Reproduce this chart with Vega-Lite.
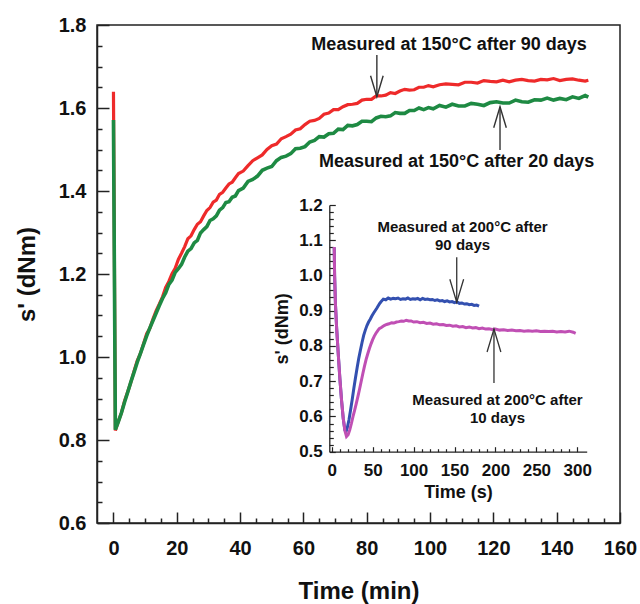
{
  "$schema": "https://vega.github.io/schema/vega-lite/v6.json",
  "width": 523,
  "height": 498,
  "autosize": "none",
  "padding": {"left": 97, "top": 25, "right": 20, "bottom": 81},
  "background": "white",
  "config": {
    "view": {"stroke": "#222", "strokeWidth": 1.5},
    "font": "Liberation Sans",
    "axis": {
      "labelFont": "Liberation Sans", "titleFont": "Liberation Sans",
      "labelFontWeight": "bold", "titleFontWeight": "bold",
      "labelColor": "#111", "titleColor": "#111",
      "domainColor": "#222", "tickColor": "#222", "grid": false,
      "labelFlush": false, "labelOverlap": false, "labelBound": false
    }
  },
  "datasets": {
    "main_red": [
      {"t":0,"v":1.639},{"t":0.6,"v":0.823},{"t":1.5,"v":0.844},{"t":2.5,"v":0.865},{"t":3.5,"v":0.894},{"t":4.5,"v":0.916},{"t":5.5,"v":0.939},{"t":6.5,"v":0.966},{"t":7.5,"v":0.991},{"t":8.5,"v":1.008},{"t":9.5,"v":1.032},{"t":10.5,"v":1.056},{"t":11.5,"v":1.069},{"t":12.5,"v":1.092},{"t":13.5,"v":1.112},{"t":14.5,"v":1.128},{"t":15.5,"v":1.145},{"t":16.5,"v":1.168},{"t":17.5,"v":1.182},{"t":18.5,"v":1.201},{"t":19.5,"v":1.214},{"t":20.5,"v":1.235},{"t":21.5,"v":1.25},{"t":22.5,"v":1.266},{"t":23.5,"v":1.285},{"t":24.5,"v":1.292},{"t":25.5,"v":1.307},{"t":26.5,"v":1.32},{"t":27.5,"v":1.326},{"t":28.5,"v":1.34},{"t":29.5,"v":1.353},{"t":30.5,"v":1.36},{"t":31.5,"v":1.373},{"t":32.5,"v":1.378},{"t":33.5,"v":1.392},{"t":34.5,"v":1.397},{"t":35.5,"v":1.407},{"t":36.5,"v":1.417},{"t":37.5,"v":1.421},{"t":38.5,"v":1.432},{"t":39.5,"v":1.442},{"t":41,"v":1.448},{"t":42.5,"v":1.461},{"t":44,"v":1.473},{"t":45.5,"v":1.48},{"t":47,"v":1.487},{"t":48.5,"v":1.5},{"t":50,"v":1.509},{"t":51.5,"v":1.513},{"t":53,"v":1.526},{"t":54.5,"v":1.531},{"t":56,"v":1.537},{"t":57.5,"v":1.547},{"t":59,"v":1.55},{"t":60.5,"v":1.56},{"t":62,"v":1.568},{"t":63.5,"v":1.57},{"t":65,"v":1.575},{"t":66.5,"v":1.585},{"t":68,"v":1.588},{"t":69.5,"v":1.596},{"t":71,"v":1.596},{"t":72.5,"v":1.603},{"t":74,"v":1.608},{"t":75.5,"v":1.609},{"t":77,"v":1.611},{"t":78.5,"v":1.619},{"t":80,"v":1.621},{"t":81.5,"v":1.621},{"t":83,"v":1.629},{"t":84.5,"v":1.629},{"t":86,"v":1.631},{"t":87.5,"v":1.637},{"t":89,"v":1.635},{"t":90.5,"v":1.641},{"t":92,"v":1.645},{"t":93.5,"v":1.643},{"t":95,"v":1.644},{"t":96.5,"v":1.65},{"t":98,"v":1.65},{"t":99.5,"v":1.654},{"t":101,"v":1.651},{"t":103,"v":1.656},{"t":105,"v":1.658},{"t":107,"v":1.657},{"t":109,"v":1.656},{"t":111,"v":1.662},{"t":113,"v":1.662},{"t":115,"v":1.66},{"t":117,"v":1.666},{"t":119,"v":1.664},{"t":121,"v":1.663},{"t":123,"v":1.667},{"t":125,"v":1.663},{"t":127,"v":1.667},{"t":129,"v":1.669},{"t":131,"v":1.666},{"t":133,"v":1.665},{"t":135,"v":1.669},{"t":137,"v":1.668},{"t":139,"v":1.671},{"t":141,"v":1.666},{"t":143,"v":1.669},{"t":145,"v":1.67},{"t":147,"v":1.667},{"t":149,"v":1.665},{"t":150,"v":1.667}
    ],
    "main_green": [
      {"t":0,"v":1.571},{"t":0.6,"v":0.825},{"t":1.5,"v":0.843},{"t":2.5,"v":0.865},{"t":3.5,"v":0.891},{"t":4.5,"v":0.915},{"t":5.5,"v":0.94},{"t":6.5,"v":0.963},{"t":7.5,"v":0.987},{"t":8.5,"v":1.008},{"t":9.5,"v":1.03},{"t":10.5,"v":1.051},{"t":11.5,"v":1.07},{"t":12.5,"v":1.088},{"t":13.5,"v":1.106},{"t":14.5,"v":1.124},{"t":15.5,"v":1.141},{"t":16.5,"v":1.155},{"t":17.5,"v":1.175},{"t":18.5,"v":1.185},{"t":19.5,"v":1.204},{"t":20.5,"v":1.213},{"t":21.5,"v":1.223},{"t":22.5,"v":1.241},{"t":23.5,"v":1.255},{"t":24.5,"v":1.261},{"t":25.5,"v":1.275},{"t":26.5,"v":1.281},{"t":27.5,"v":1.299},{"t":28.5,"v":1.307},{"t":29.5,"v":1.314},{"t":30.5,"v":1.329},{"t":31.5,"v":1.333},{"t":32.5,"v":1.34},{"t":33.5,"v":1.354},{"t":34.5,"v":1.36},{"t":35.5,"v":1.372},{"t":36.5,"v":1.374},{"t":37.5,"v":1.385},{"t":38.5,"v":1.388},{"t":39.5,"v":1.401},{"t":41,"v":1.407},{"t":42.5,"v":1.423},{"t":44,"v":1.428},{"t":45.5,"v":1.436},{"t":47,"v":1.45},{"t":48.5,"v":1.455},{"t":50,"v":1.459},{"t":51.5,"v":1.473},{"t":53,"v":1.481},{"t":54.5,"v":1.484},{"t":56,"v":1.49},{"t":57.5,"v":1.502},{"t":59,"v":1.503},{"t":60.5,"v":1.507},{"t":62,"v":1.518},{"t":63.5,"v":1.522},{"t":65,"v":1.531},{"t":66.5,"v":1.53},{"t":68,"v":1.538},{"t":69.5,"v":1.539},{"t":71,"v":1.549},{"t":72.5,"v":1.548},{"t":74,"v":1.558},{"t":75.5,"v":1.557},{"t":77,"v":1.56},{"t":78.5,"v":1.568},{"t":80,"v":1.568},{"t":81.5,"v":1.567},{"t":83,"v":1.576},{"t":84.5,"v":1.58},{"t":86,"v":1.579},{"t":87.5,"v":1.581},{"t":89,"v":1.589},{"t":90.5,"v":1.587},{"t":92,"v":1.587},{"t":93.5,"v":1.594},{"t":95,"v":1.594},{"t":96.5,"v":1.6},{"t":98,"v":1.596},{"t":99.5,"v":1.601},{"t":101,"v":1.598},{"t":103,"v":1.606},{"t":105,"v":1.602},{"t":107,"v":1.609},{"t":109,"v":1.605},{"t":111,"v":1.605},{"t":113,"v":1.611},{"t":115,"v":1.609},{"t":117,"v":1.606},{"t":119,"v":1.613},{"t":121,"v":1.615},{"t":123,"v":1.612},{"t":125,"v":1.612},{"t":127,"v":1.619},{"t":129,"v":1.615},{"t":131,"v":1.614},{"t":133,"v":1.62},{"t":135,"v":1.619},{"t":137,"v":1.624},{"t":139,"v":1.619},{"t":141,"v":1.623},{"t":143,"v":1.62},{"t":145,"v":1.627},{"t":147,"v":1.623},{"t":149,"v":1.63},{"t":150,"v":1.626}
    ],
    "main_notes": [
      {"t":106,"v":1.752,"label":"Measured at 150°C after 90 days"},
      {"t":108.4,"v":1.469,"label":"Measured at 150°C after 20 days"}
    ],
    "main_arrows": [
      {"t":83.2,"v":1.728,"v2":1.627,"dir":"down"},
      {"t":122.1,"v":1.499,"v2":1.603,"dir":"up"}
    ],
    "inset_blue": [
      {"s":3,"v":1.08},{"s":3.5,"v":1.0},{"s":4.5,"v":0.92},{"s":6,"v":0.85},{"s":8,"v":0.775},{"s":10,"v":0.705},{"s":12,"v":0.645},{"s":14,"v":0.595},{"s":16,"v":0.562},{"s":17.5,"v":0.557},{"s":19,"v":0.568},{"s":21,"v":0.59},{"s":23,"v":0.618},{"s":25,"v":0.648},{"s":27,"v":0.68},{"s":29,"v":0.71},{"s":31,"v":0.738},{"s":33,"v":0.765},{"s":35,"v":0.788},{"s":37,"v":0.81},{"s":39,"v":0.83},{"s":41,"v":0.845},{"s":43,"v":0.858},{"s":45,"v":0.868},{"s":47,"v":0.876},{"s":49,"v":0.885},{"s":51,"v":0.893},{"s":53,"v":0.9},{"s":55,"v":0.907},{"s":57,"v":0.915},{"s":59,"v":0.922},{"s":61,"v":0.928},{"s":63,"v":0.933},{"s":66,"v":0.931},{"s":69,"v":0.936},{"s":72,"v":0.933},{"s":75,"v":0.935},{"s":78,"v":0.934},{"s":81,"v":0.936},{"s":84,"v":0.932},{"s":87,"v":0.934},{"s":90,"v":0.933},{"s":93,"v":0.936},{"s":96,"v":0.932},{"s":99,"v":0.934},{"s":102,"v":0.933},{"s":105,"v":0.935},{"s":108,"v":0.931},{"s":111,"v":0.935},{"s":114,"v":0.932},{"s":117,"v":0.933},{"s":120,"v":0.931},{"s":123,"v":0.932},{"s":126,"v":0.929},{"s":129,"v":0.931},{"s":132,"v":0.928},{"s":135,"v":0.929},{"s":138,"v":0.926},{"s":141,"v":0.928},{"s":144,"v":0.925},{"s":147,"v":0.926},{"s":150,"v":0.923},{"s":153,"v":0.925},{"s":156,"v":0.921},{"s":159,"v":0.922},{"s":162,"v":0.919},{"s":165,"v":0.92},{"s":168,"v":0.917},{"s":171,"v":0.918},{"s":174,"v":0.915},{"s":177,"v":0.916},{"s":180,"v":0.913}
    ],
    "inset_mag": [
      {"s":3,"v":1.081},{"s":3.5,"v":1.0},{"s":4.5,"v":0.92},{"s":6,"v":0.85},{"s":8,"v":0.775},{"s":10,"v":0.705},{"s":12,"v":0.645},{"s":14,"v":0.595},{"s":16,"v":0.56},{"s":18,"v":0.543},{"s":20,"v":0.548},{"s":22,"v":0.562},{"s":24,"v":0.58},{"s":26,"v":0.6},{"s":28,"v":0.618},{"s":30,"v":0.637},{"s":32,"v":0.657},{"s":34,"v":0.678},{"s":36,"v":0.7},{"s":38,"v":0.722},{"s":40,"v":0.743},{"s":42,"v":0.762},{"s":44,"v":0.778},{"s":46,"v":0.793},{"s":48,"v":0.806},{"s":50,"v":0.818},{"s":52,"v":0.828},{"s":54,"v":0.836},{"s":56,"v":0.843},{"s":58,"v":0.849},{"s":61,"v":0.853},{"s":64,"v":0.858},{"s":67,"v":0.861},{"s":70,"v":0.863},{"s":73,"v":0.866},{"s":76,"v":0.865},{"s":79,"v":0.868},{"s":82,"v":0.869},{"s":85,"v":0.871},{"s":88,"v":0.87},{"s":91,"v":0.873},{"s":94,"v":0.871},{"s":97,"v":0.871},{"s":100,"v":0.868},{"s":104,"v":0.869},{"s":108,"v":0.866},{"s":112,"v":0.867},{"s":116,"v":0.864},{"s":120,"v":0.865},{"s":124,"v":0.862},{"s":128,"v":0.863},{"s":132,"v":0.86},{"s":136,"v":0.861},{"s":140,"v":0.858},{"s":144,"v":0.859},{"s":148,"v":0.856},{"s":152,"v":0.857},{"s":156,"v":0.854},{"s":160,"v":0.855},{"s":164,"v":0.852},{"s":168,"v":0.854},{"s":172,"v":0.851},{"s":176,"v":0.852},{"s":180,"v":0.849},{"s":184,"v":0.851},{"s":188,"v":0.848},{"s":192,"v":0.849},{"s":196,"v":0.847},{"s":200,"v":0.848},{"s":205,"v":0.845},{"s":210,"v":0.846},{"s":215,"v":0.844},{"s":220,"v":0.845},{"s":225,"v":0.843},{"s":230,"v":0.844},{"s":235,"v":0.842},{"s":240,"v":0.843},{"s":245,"v":0.842},{"s":250,"v":0.843},{"s":255,"v":0.841},{"s":260,"v":0.842},{"s":265,"v":0.841},{"s":270,"v":0.842},{"s":275,"v":0.84},{"s":280,"v":0.841},{"s":285,"v":0.84},{"s":290,"v":0.842},{"s":295,"v":0.839},{"s":298,"v":0.836}
    ],
    "inset_notes": [
      {"s":159.8,"v":1.138,"label":"Measured at 200°C after"},
      {"s":159.8,"v":1.086,"label":"90 days"},
      {"s":202.5,"v":0.648,"label":"Measured at 200°C after"},
      {"s":202.5,"v":0.595,"label":"10 days"}
    ],
    "inset_arrows": [
      {"s":152.7,"v":1.052,"v2":0.924,"dir":"down"},
      {"s":198.2,"v":0.695,"v2":0.848,"dir":"up"}
    ]
  },
  "layer": [
    {
      "encoding": {
        "x": {
          "field": "t", "type": "quantitative",
          "scale": {"domain": [-5.2, 160], "nice": false, "zero": false},
          "axis": {
            "values": [0,5,10,15,20,25,30,35,40,45,50,55,60,65,70,75,80,85,90,95,100,105,110,115,120,125,130,135,140,145,150,155,160],
            "tickSize": {"condition": {"test": "datum.value % 20 === 0", "value": -11}, "value": -5},
            "tickWidth": 1.5, "domainWidth": 1.5,
            "labelExpr": "datum.value % 20 === 0 ? datum.label : ''",
            "labelFontSize": 20, "labelPadding": 26,
            "title": "Time (min)", "titleFontSize": 24, "titlePadding": 15
          }
        },
        "y": {
          "field": "v", "type": "quantitative",
          "scale": {"domain": [0.6, 1.8], "nice": false, "zero": false},
          "axis": {
            "values": [0.6,0.65,0.7,0.75,0.8,0.85,0.9,0.95,1.0,1.05,1.1,1.15,1.2,1.25,1.3,1.35,1.4,1.45,1.5,1.55,1.6,1.65,1.7,1.75,1.8],
            "tickSize": {"condition": {"test": "abs(round(datum.value*100) % 20) === 0", "value": -12}, "value": -5},
            "tickWidth": 1.5, "domainWidth": 1.5,
            "format": ".1f",
            "labelExpr": "abs(round(datum.value*100) % 20) === 0 ? datum.label : ''",
            "labelFontSize": 20, "labelPadding": 23,
            "title": "s' (dNm)", "titleFontSize": 24, "titlePadding": 19
          }
        }
      },
      "layer": [
        {"data": {"name": "main_red"}, "mark": {"type": "line", "color": "#ee2a2a", "strokeWidth": 3.2}},
        {"data": {"name": "main_green"}, "mark": {"type": "line", "color": "#1e8a43", "strokeWidth": 3.6}},
        {"data": {"name": "main_arrows"}, "mark": {"type": "rule", "color": "#333", "strokeWidth": 1.4}, "encoding": {"y2": {"field": "v2"}}},
        {"data": {"name": "main_arrows"}, "mark": {"type": "point", "filled": false, "size": 441, "color": "#333", "strokeWidth": 1.4, "opacity": 1},
         "encoding": {"y": {"field": "v2", "type": "quantitative"},
                      "shape": {"field": "dir", "type": "nominal", "scale": {"domain": ["down", "up"], "range": ["M-0.6,-2L0,0L0.6,-2", "M-0.6,2L0,0L0.6,2"]}, "legend": null}}},
        {"data": {"name": "main_notes"}, "mark": {"type": "text", "fontSize": 18, "fontWeight": "bold", "font": "Liberation Sans", "color": "#111"},
         "encoding": {"text": {"field": "label"}}}
      ]
    },
    {
      "encoding": {
        "x": {
          "field": "s", "type": "quantitative",
          "scale": {"domain": [-3, 311.5], "range": [232.3, 489.7], "nice": false, "zero": false},
          "axis": {
            "orient": "bottom", "offset": -71.3,
            "values": [0,10,20,30,40,50,60,70,80,90,100,110,120,130,140,150,160,170,180,190,200,210,220,230,240,250,260,270,280,290,300],
            "tickSize": {"condition": {"test": "datum.value % 50 === 0", "value": -5}, "value": -3},
            "tickWidth": 1.2, "domainWidth": 1.3,
            "labelExpr": "datum.value % 50 === 0 ? datum.label : ''",
            "labelFontSize": 17, "labelPadding": 16,
            "title": "Time (s)", "titleFontSize": 18, "titlePadding": 3
          }
        },
        "y": {
          "field": "v", "type": "quantitative",
          "scale": {"domain": [0.5, 1.2], "range": [426.7, 180], "nice": false, "zero": false},
          "axis": {
            "orient": "left", "offset": -232.3,
            "values": [0.5,0.52,0.54,0.56,0.58,0.6,0.62,0.64,0.66,0.68,0.7,0.72,0.74,0.76,0.78,0.8,0.82,0.84,0.86,0.88,0.9,0.92,0.94,0.96,0.98,1.0,1.02,1.04,1.06,1.08,1.1,1.12,1.14,1.16,1.18,1.2],
            "tickSize": {"condition": {"test": "abs(round(datum.value*100) % 10) === 0", "value": -6}, "value": -4},
            "tickWidth": 1.2, "domainWidth": 1.3,
            "format": ".1f",
            "labelExpr": "abs(round(datum.value*100) % 10) === 0 ? datum.label : ''",
            "labelFontSize": 17, "labelPadding": 13,
            "title": "s' (dNm)", "titleFontSize": 18, "titlePadding": 7
          }
        }
      },
      "layer": [
        {"data": {"values": [{}]}, "mark": {"type": "rect", "fill": null, "filled": false, "stroke": "#222", "strokeWidth": 1.3},
         "encoding": {"x": {"datum": -3}, "x2": {"datum": 311.5}, "y": {"datum": 0.5}, "y2": {"datum": 1.2}}},
        {"data": {"name": "inset_blue"}, "mark": {"type": "line", "color": "#3350b0", "strokeWidth": 3}},
        {"data": {"name": "inset_mag"}, "mark": {"type": "line", "color": "#c04fb4", "strokeWidth": 3}},
        {"data": {"name": "inset_arrows"}, "mark": {"type": "rule", "color": "#333", "strokeWidth": 1.3}, "encoding": {"y2": {"field": "v2"}}},
        {"data": {"name": "inset_arrows"}, "mark": {"type": "point", "filled": false, "size": 529, "color": "#333", "strokeWidth": 1.3, "opacity": 1},
         "encoding": {"y": {"field": "v2", "type": "quantitative"},
                      "shape": {"field": "dir", "type": "nominal", "scale": {"domain": ["down", "up"], "range": ["M-0.6,-2L0,0L0.6,-2", "M-0.6,2L0,0L0.6,2"]}, "legend": null}}},
        {"data": {"name": "inset_notes"}, "mark": {"type": "text", "fontSize": 15, "fontWeight": "bold", "font": "Liberation Sans", "color": "#111"},
         "encoding": {"text": {"field": "label"}}}
      ]
    }
  ],
  "resolve": {"scale": {"x": "independent", "y": "independent"}}
}
